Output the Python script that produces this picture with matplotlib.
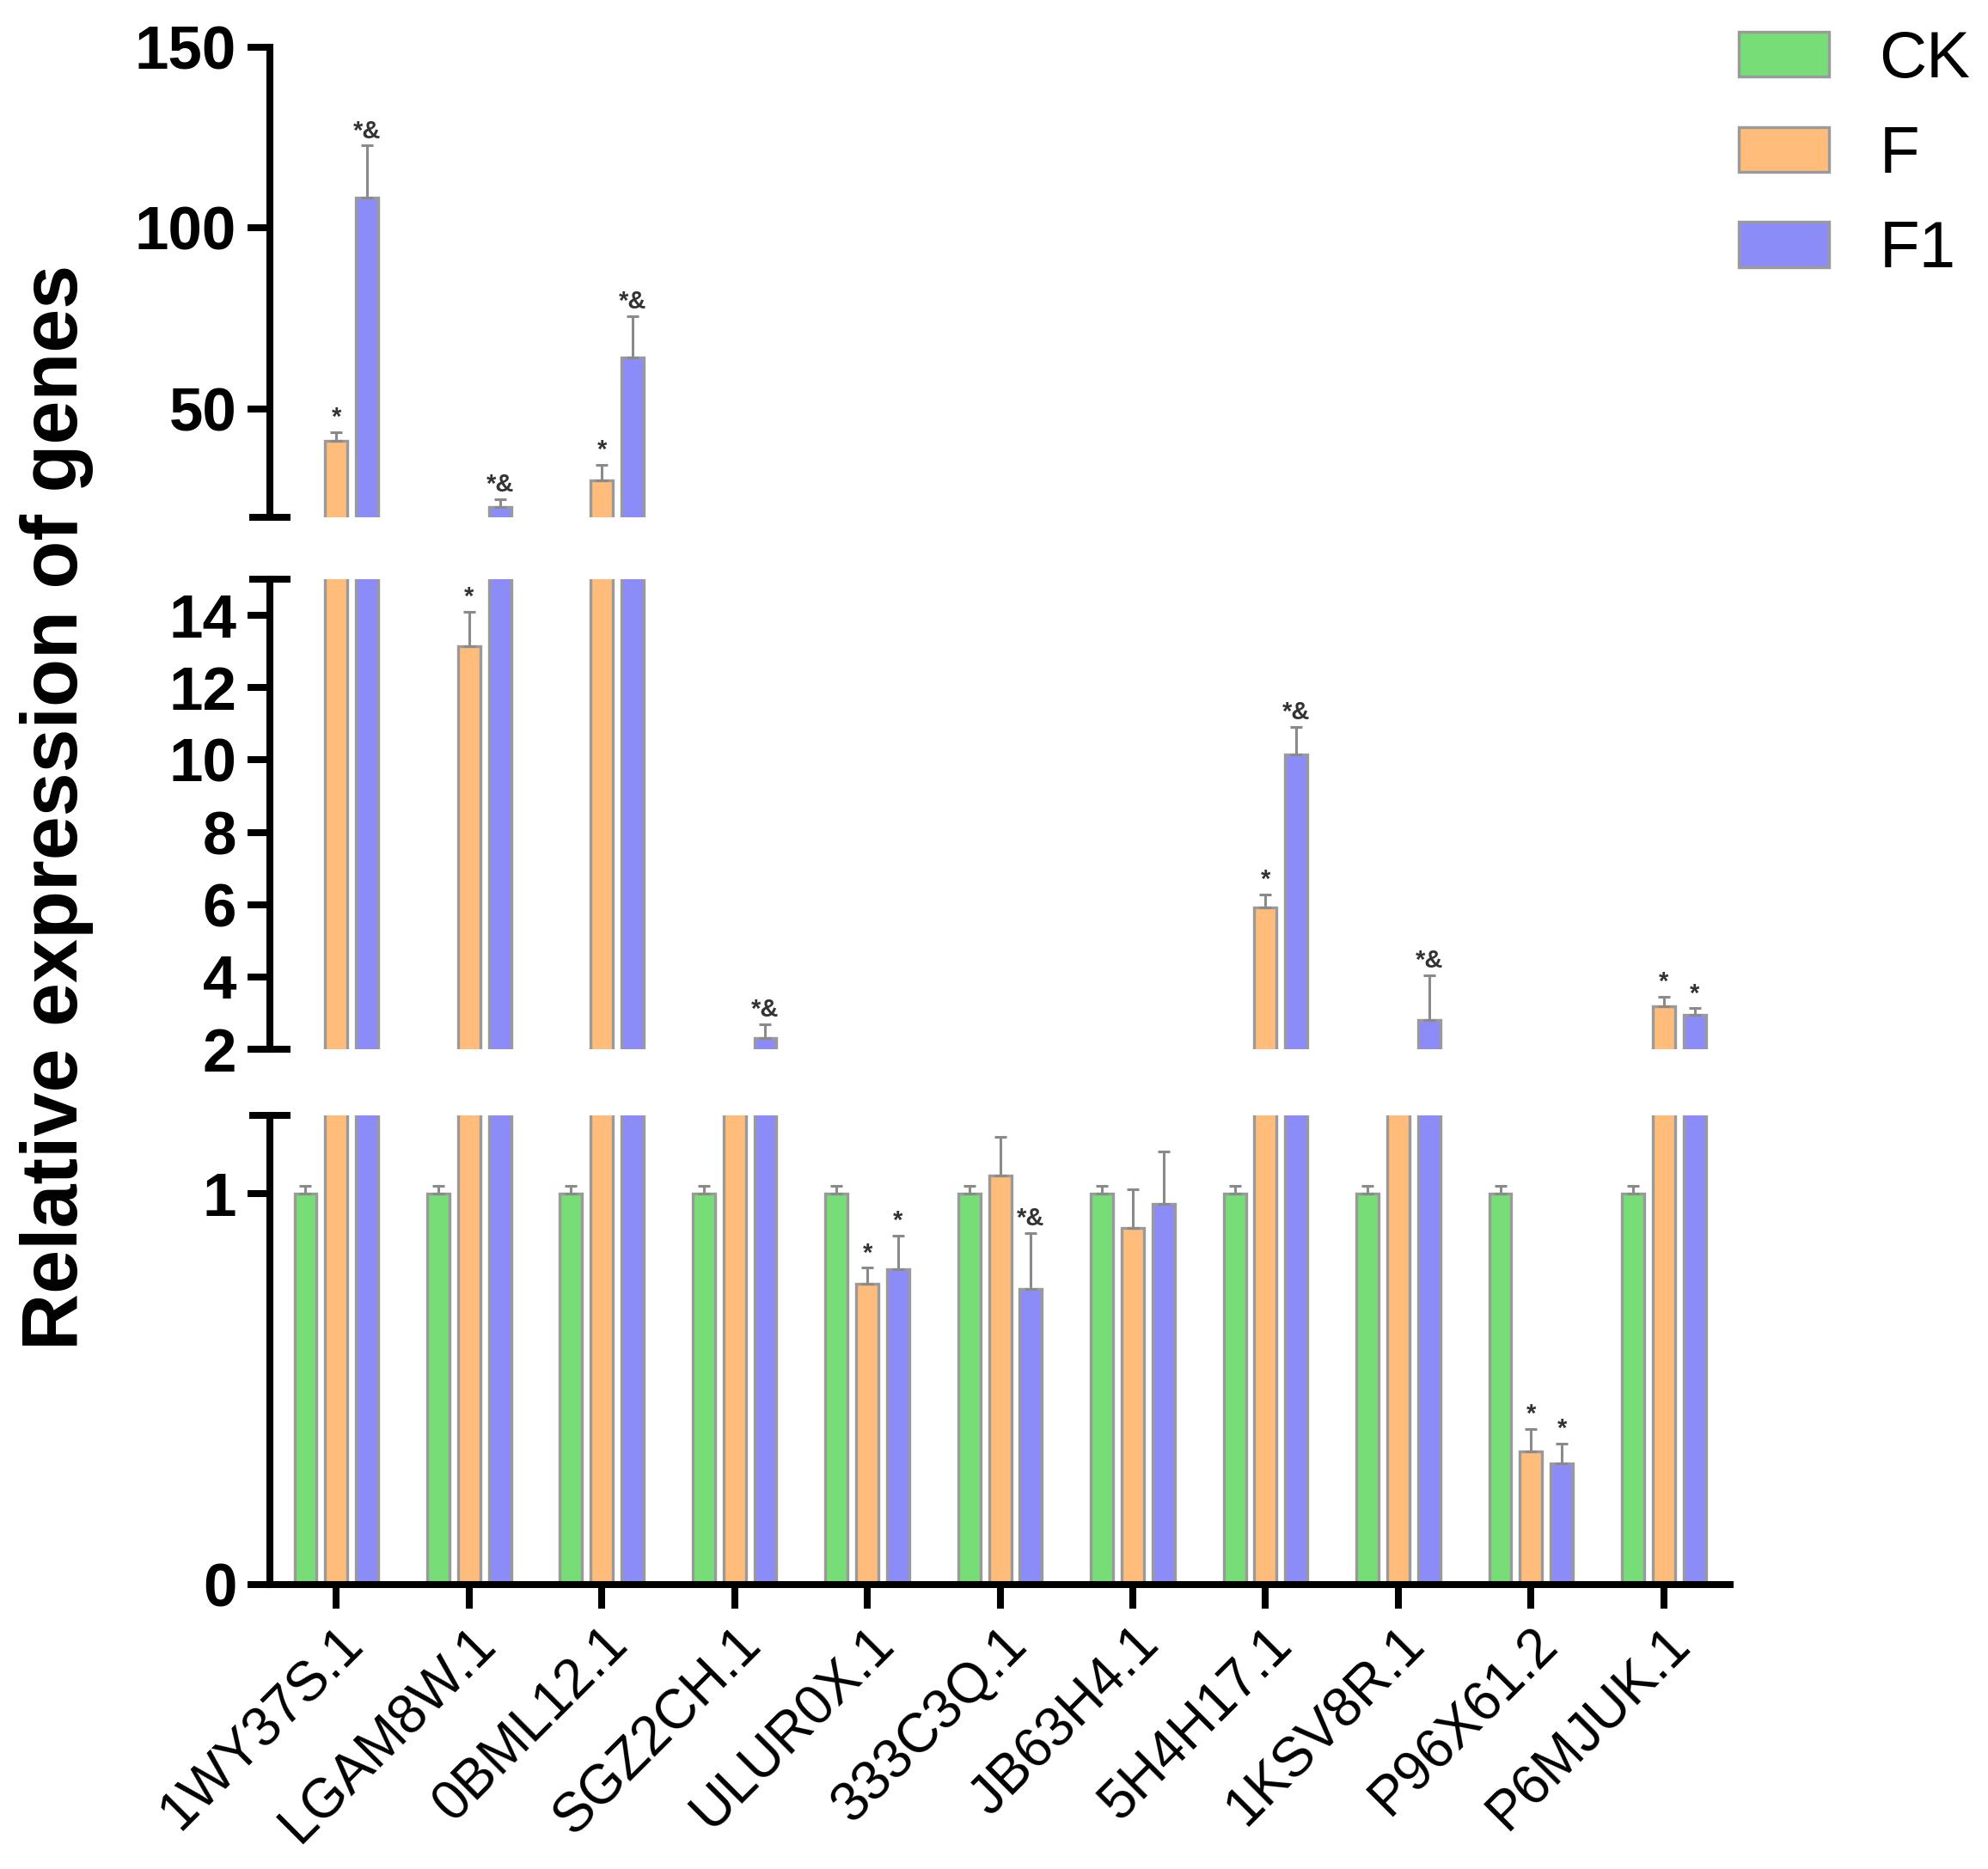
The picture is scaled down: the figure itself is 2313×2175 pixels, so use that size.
import numpy as np
import matplotlib
matplotlib.use("Agg")
import matplotlib.pyplot as plt
from matplotlib.patches import Patch

plt.rcParams['font.family'] = ['Liberation Sans', 'DejaVu Sans']

genes = ["1WY37S.1", "LGAM8W.1", "0BML12.1", "SGZ2CH.1", "ULUR0X.1", "333C3Q.1",
         "JB63H4.1", "5H4H17.1", "1KSV8R.1", "P96X61.2", "P6MJUK.1"]
series = ["CK", "F", "F1"]
ck_vals = [1, 1, 1, 1, 1, 1, 1, 1, 1, 1, 1]
ck_err = [0.02, 0.02, 0.02, 0.02, 0.02, 0.02, 0.02, 0.02, 0.02, 0.02, 0.02]
f_vals = [41.2, 13.15, 30.2, 1.5, 0.77, 1.046, 0.912, 5.93, 1.6, 0.34, 3.2]
f_err = [2.3, 0.95, 4.3, 0.1, 0.04, 0.1, 0.1, 0.35, 0.1, 0.058, 0.26]
f1_vals = [108.5, 22.8, 64.1, 2.3, 0.807, 0.755, 0.973, 10.16, 2.8, 0.31, 2.96]
f1_err = [14.3, 2.2, 11.6, 0.4, 0.086, 0.144, 0.135, 0.75, 1.25, 0.051, 0.17]
f_marks = ["*", "*", "*", "", "*", "", "", "*", "", "*", "*"]
f1_marks = ["*&", "*&", "*&", "*&", "*", "*&", "", "*&", "*&", "*", "*"]

colors = ["#77DD77", "#FFBC7A", "#8C8CF8"]
edge = "#9a9a9a"
ecol = "#8a8a8a"

fig = plt.figure(figsize=(23.13, 21.75), dpi=100)
x0, w = 0.1358, 0.7345
h = 0.2515
ax_top = fig.add_axes([x0, 0.7232, w, h])
ax_mid = fig.add_axes([x0, 0.4386, w, h])
ax_bot = fig.add_axes([x0, 0.1522, w, 0.251])
axes = [ax_top, ax_mid, ax_bot]
limits = [(20, 150), (2, 15), (0, 1.2)]
ticks = [[50, 100, 150], [2, 4, 6, 8, 10, 12, 14], [0, 1]]

x = np.arange(len(genes))
offs = [-0.232, 0.0, 0.232]
bw = 0.168
all_vals = [ck_vals, f_vals, f1_vals]
all_err = [ck_err, f_err, f1_err]

spine_lw = 5.8
for ax, lim, tk in zip(axes, limits, ticks):
    for i in range(3):
        ax.bar(x + offs[i], all_vals[i], width=bw, color=colors[i], edgecolor=edge,
               linewidth=2.4, yerr=[np.zeros(len(genes)), all_err[i]],
               error_kw=dict(ecolor=ecol, elinewidth=2.2, capsize=5, capthick=2.2),
               zorder=2)
    ax.set_ylim(*lim)
    ax.set_xlim(-0.5, 10.5)
    ax.set_yticks(tk)
    ax.set_yticklabels([str(t) for t in tk], fontsize=51, fontweight='bold')
    for s in ["top", "right"]:
        ax.spines[s].set_visible(False)
    ax.spines["left"].set_linewidth(spine_lw)
    ax.tick_params(axis='y', length=19, width=spine_lw, pad=9)
    ax.patch.set_alpha(0)

for ax in [ax_top, ax_mid]:
    ax.spines["bottom"].set_visible(False)
    ax.set_xticks([])

ax_bot.spines["bottom"].set_linewidth(spine_lw)
ax_bot.set_xticks(x)
ax_bot.set_xticklabels(genes, rotation=45, ha='right', va='top',
                       rotation_mode='anchor', fontsize=46)
ax_bot.tick_params(axis='x', length=20, width=spine_lw, pad=8)

# break caps
cw = 24 / (w * 2313)
for ax, ys in [(ax_top, [0]), (ax_mid, [0, 1]), (ax_bot, [1])]:
    for yy in ys:
        ax.plot([-cw, cw], [yy, yy], transform=ax.transAxes, color='k',
                lw=spine_lw, solid_capstyle='butt', clip_on=False, zorder=5)

# significance marks
def place(xpos, ytop, txt):
    for ax, lim in zip(axes, limits):
        if lim[0] <= ytop <= lim[1]:
            ax.annotate(txt, (xpos, ytop), xytext=(0, 2), textcoords='offset points',
                        ha='center', va='bottom', fontsize=21, color='#333333',
                        fontweight='bold')
            return

for j in range(len(genes)):
    if f_marks[j]:
        place(x[j] + offs[1], f_vals[j] + f_err[j], f_marks[j])
    if f1_marks[j]:
        place(x[j] + offs[2], f1_vals[j] + f1_err[j], f1_marks[j])

fig.text(0.0285, 0.568, "Relative expression of genes", rotation=90, ha='center',
         va='center', fontsize=66, fontweight='bold')

handles = [Patch(facecolor=colors[i], edgecolor=edge, linewidth=2.4) for i in range(3)]
fig.legend(handles, series, loc='upper left', bbox_to_anchor=(0.8746, 0.984),
           frameon=False, fontsize=55, handlelength=1.37, handleheight=0.68,
           handletextpad=0.77, labelspacing=0.52, borderpad=0, borderaxespad=0)

fig.savefig("out.png", dpi=100)
